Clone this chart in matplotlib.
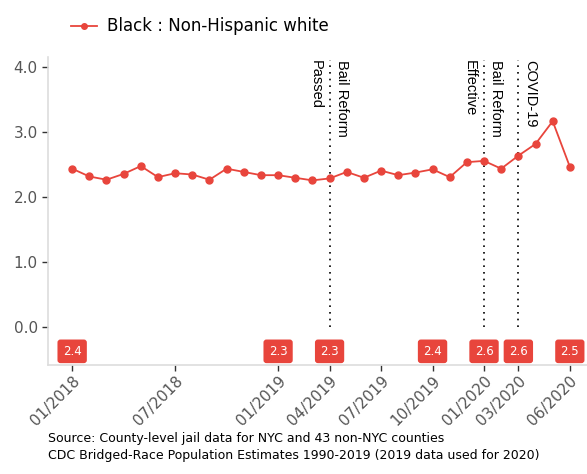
import matplotlib
matplotlib.use('Agg')
import matplotlib.pyplot as plt

# DATA: monthly ratio, 01/2018 .. 06/2020
months = list(range(30))
ratio = [2.43, 2.31, 2.26, 2.35, 2.47, 2.30, 2.36, 2.34, 2.26, 2.43,
         2.38, 2.33, 2.33, 2.29, 2.25, 2.28, 2.38, 2.29, 2.40, 2.33,
         2.37, 2.42, 2.30, 2.53, 2.55, 2.43, 2.63, 2.81, 3.16, 2.46]

tick_months = [0, 6, 12, 15, 18, 21, 24, 26, 29]
tick_labels = ['01/2018', '07/2018', '01/2019', '04/2019', '07/2019',
               '10/2019', '01/2020', '03/2020', '06/2020']

label_months = [0, 12, 15, 21, 24, 26, 29]
label_texts = ['2.4', '2.3', '2.3', '2.4', '2.6', '2.6', '2.5']

event_months = [15, 24, 26]
event_right = ['Bail Reform', 'Bail Reform', 'COVID-19']
event_left = ['Passed', 'Effective', '']

RED = '#e8453c'

fig = plt.figure(figsize=(5.87, 4.74), dpi=100)
ax = fig.add_axes([0.082, 0.230, 0.918, 0.650])

ax.plot(months, ratio, color=RED, lw=1.3, marker='o', markersize=5,
        label='Black : Non-Hispanic white', zorder=3)

# event lines
for m, rt, lt in zip(event_months, event_right, event_left):
    ax.plot([m, m], [0, 4.1], color='black', lw=1.2, ls=(0, (1, 3)), zorder=2)
    ax.text(m + 0.3, 4.1, rt, rotation=270, ha='left', va='top',
            fontsize=10.5, family='Liberation Sans')
    if lt:
        ax.text(m - 0.4, 4.1, lt, rotation=270, ha='right', va='top',
                fontsize=10.5, family='Liberation Sans')

# value boxes
for m, t in zip(label_months, label_texts):
    ax.text(m, -0.38, t, ha='center', va='center', color='white', fontsize=8.5,
            bbox=dict(boxstyle='round,pad=0.45,rounding_size=0.25', fc=RED, ec='none'))

ax.set_xlim(-1.4, 30)
ax.set_ylim(-0.59, 4.15)
ax.set_yticks([0, 1, 2, 3, 4])
ax.set_yticklabels(['0.0', '1.0', '2.0', '3.0', '4.0'], fontsize=11, color='#555555')
ax.set_xticks(tick_months)
ax.set_xticklabels(tick_labels, rotation=45, ha='right', rotation_mode='anchor',
                   fontsize=11, color='#555555')
ax.tick_params(axis='both', length=4, width=1, color='#333333')
ax.tick_params(axis='x', pad=2)

for s in ['top', 'right']:
    ax.spines[s].set_visible(False)
for s in ['left', 'bottom']:
    ax.spines[s].set_color('#dddddd')
    ax.spines[s].set_linewidth(1.2)

fig.legend(loc='upper left', bbox_to_anchor=(0.095, 0.995), frameon=False,
           fontsize=12, handlelength=1.6, handletextpad=0.6, markerscale=0.8)

fig.text(0.082, 0.058, 'Source: County-level jail data for NYC and 43 non-NYC counties\n'
         'CDC Bridged-Race Population Estimates 1990-2019 (2019 data used for 2020)',
         fontsize=9, va='center', ha='left', linespacing=1.4)

fig.savefig('out.png', dpi=100)
